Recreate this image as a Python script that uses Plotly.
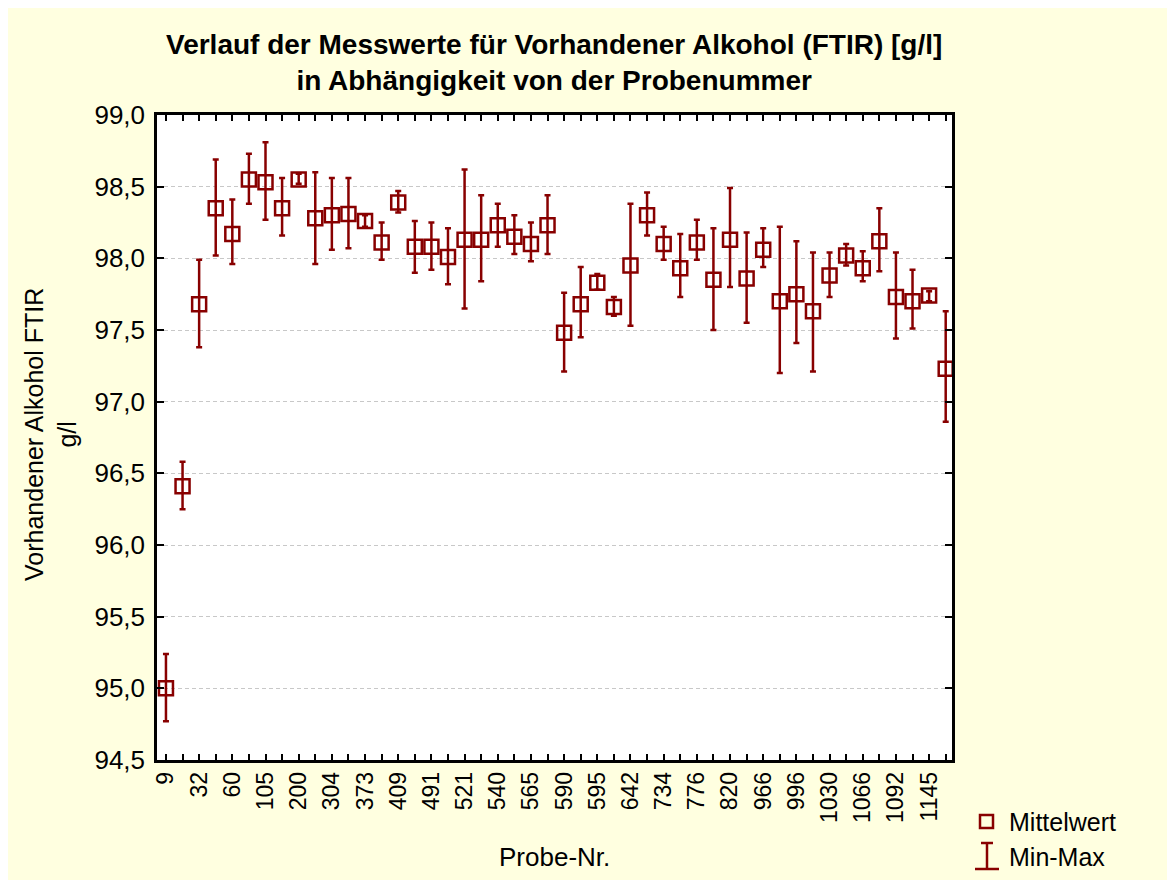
import plotly.graph_objects as go

# ---- data ----
probe_labels = ["9", "32", "60", "105", "200", "304", "373", "409", "491", "521",
                "540", "565", "590", "595", "642", "734", "776", "820", "966", "996",
                "1030", "1066", "1092", "1145"]  # labelled every second sample

mean_vals = [95.00, 96.41, 97.68, 98.35, 98.17, 98.55, 98.53, 98.35, 98.55, 98.28,
             98.30, 98.31, 98.26, 98.11, 98.39, 98.08, 98.08, 98.01, 98.13, 98.13,
             98.23, 98.15, 98.10, 98.23, 97.48, 97.68, 97.83, 97.66, 97.95, 98.30,
             98.10, 97.93, 98.11, 97.85, 98.13, 97.86, 98.06, 97.70, 97.75, 97.63,
             97.88, 98.02, 97.93, 98.12, 97.73, 97.70, 97.74, 97.23]

max_vals = [95.24, 96.58, 97.99, 98.69, 98.41, 98.73, 98.81, 98.56, 98.59, 98.60,
            98.56, 98.56, 98.30, 98.25, 98.47, 98.26, 98.25, 98.21, 98.62, 98.44,
            98.38, 98.30, 98.25, 98.44, 97.76, 97.94, 97.89, 97.73, 98.38, 98.46,
            98.22, 98.17, 98.27, 98.21, 98.49, 98.18, 98.21, 98.22, 98.12, 98.04,
            98.04, 98.10, 98.05, 98.35, 98.04, 97.92, 97.77, 97.63]

min_vals = [94.77, 96.25, 97.38, 98.02, 97.96, 98.38, 98.27, 98.16, 98.52, 97.96,
            98.06, 98.07, 98.22, 97.99, 98.32, 97.90, 97.92, 97.82, 97.65, 97.84,
            98.08, 98.03, 97.98, 98.03, 97.21, 97.45, 97.78, 97.60, 97.53, 98.16,
            97.99, 97.73, 97.99, 97.50, 97.80, 97.55, 97.94, 97.20, 97.41, 97.21,
            97.73, 97.95, 97.84, 97.91, 97.44, 97.51, 97.70, 96.86]

y_ticks = [94.5, 95.0, 95.5, 96.0, 96.5, 97.0, 97.5, 98.0, 98.5, 99.0]

# ---- derived ----
n = len(mean_vals)
x_idx = list(range(n))
err_plus = [mx - m for mx, m in zip(max_vals, mean_vals)]
err_minus = [m - mn for mn, m in zip(min_vals, mean_vals)]
tick_text = []
for i in range(n):
    tick_text.append(probe_labels[i // 2] if i % 2 == 0 else "")

DARK_RED = "#880000"
CREAM = "#FFFFE0"
FONT = "Liberation Sans, Arial, sans-serif"

W, H = 1175, 880
OFF = 8  # page body margin of the browser
L, R, T, B = 157 - OFF, 952 - OFF, 115 - OFF, 760 - OFF  # plot area in figure pixels


def px(xp):
    """screen x pixel -> paper coordinate"""
    return (xp - OFF - L) / (R - L)


def py(yp):
    """screen y pixel -> paper coordinate"""
    return (B - (yp - OFF)) / (B - T)


fig = go.Figure()
fig.add_trace(go.Scatter(
    x=x_idx, y=mean_vals, mode="markers",
    marker=dict(symbol="square-open", size=14, color=DARK_RED,
                line=dict(width=2.5, color=DARK_RED)),
    error_y=dict(type="data", symmetric=False, array=err_plus,
                 arrayminus=err_minus, color=DARK_RED, thickness=2.5, width=3),
    showlegend=False, name="Mittelwert",
))

shapes = [
    # legend: square
    dict(type="rect", xref="paper", yref="paper", x0=px(980), x1=px(993), y0=py(828), y1=py(815),
         line=dict(color=DARK_RED, width=2.5), fillcolor="rgba(0,0,0,0)"),
    # legend: I-beam
    dict(type="line", xref="paper", yref="paper", x0=px(987), x1=px(987), y0=py(869), y1=py(843),
         line=dict(color=DARK_RED, width=2.5)),
    dict(type="line", xref="paper", yref="paper", x0=px(981), x1=px(993), y0=py(843), y1=py(843),
         line=dict(color=DARK_RED, width=2.5)),
    dict(type="line", xref="paper", yref="paper", x0=px(975), x1=px(999), y0=py(869), y1=py(869),
         line=dict(color=DARK_RED, width=2.5)),
]

annotations = [
    dict(text="<b>Verlauf der Messwerte für Vorhandener Alkohol (FTIR) [g/l]<br>in Abhängigkeit von der Probenummer</b>",
         xref="paper", yref="paper", x=px(554), y=py(63), xanchor="center", yanchor="middle",
         showarrow=False, font=dict(size=28, color="black", family=FONT)),
    dict(text="Vorhandener Alkohol FTIR<br>g/l", textangle=-90,
         xref="paper", yref="paper", x=px(50), y=py(435), xanchor="center", yanchor="middle",
         showarrow=False, font=dict(size=25, color="black", family=FONT)),
    dict(text="Probe-Nr.", xref="paper", yref="paper", x=px(554), y=py(857),
         xanchor="center", yanchor="middle", showarrow=False,
         font=dict(size=26, color="black", family=FONT)),
    dict(text="Mittelwert", xref="paper", yref="paper", x=px(1007), y=py(822),
         xanchor="left", yanchor="middle", showarrow=False,
         font=dict(size=25, color="black", family=FONT)),
    dict(text="Min-Max", xref="paper", yref="paper", x=px(1007), y=py(857),
         xanchor="left", yanchor="middle", showarrow=False,
         font=dict(size=25, color="black", family=FONT)),
]

fig.update_layout(
    width=W, height=H,
    margin=dict(l=L, r=W - R, t=T, b=H - B, pad=0),
    paper_bgcolor=CREAM, plot_bgcolor="white",
    separators=",.",
    font=dict(family=FONT, color="black"),
    shapes=shapes, annotations=annotations,
    showlegend=False,
)

fig.update_xaxes(
    range=[-0.54, n - 1 + 0.38],
    tickmode="array", tickvals=x_idx, ticktext=tick_text,
    tickangle=-90, ticks="inside", ticklen=6, tickwidth=2, tickcolor="black",
    tickfont=dict(size=23, family=FONT, color="black"),
    showline=True, linecolor="black", linewidth=2.5, mirror="ticks",
    showgrid=False, zeroline=False,
)
fig.update_yaxes(
    range=[94.5, 99.0],
    tickmode="array", tickvals=y_ticks, tickformat=".1f",
    ticks="inside", ticklen=7, tickwidth=2, tickcolor="black",
    tickfont=dict(size=26, family=FONT, color="black"),
    ticklabelstandoff=4,
    showline=True, linecolor="black", linewidth=2.5, mirror="ticks",
    showgrid=True, gridcolor="#C8C8C8", gridwidth=1, griddash="4px,3px",
    zeroline=False,
)

fig.write_html("out.html")
